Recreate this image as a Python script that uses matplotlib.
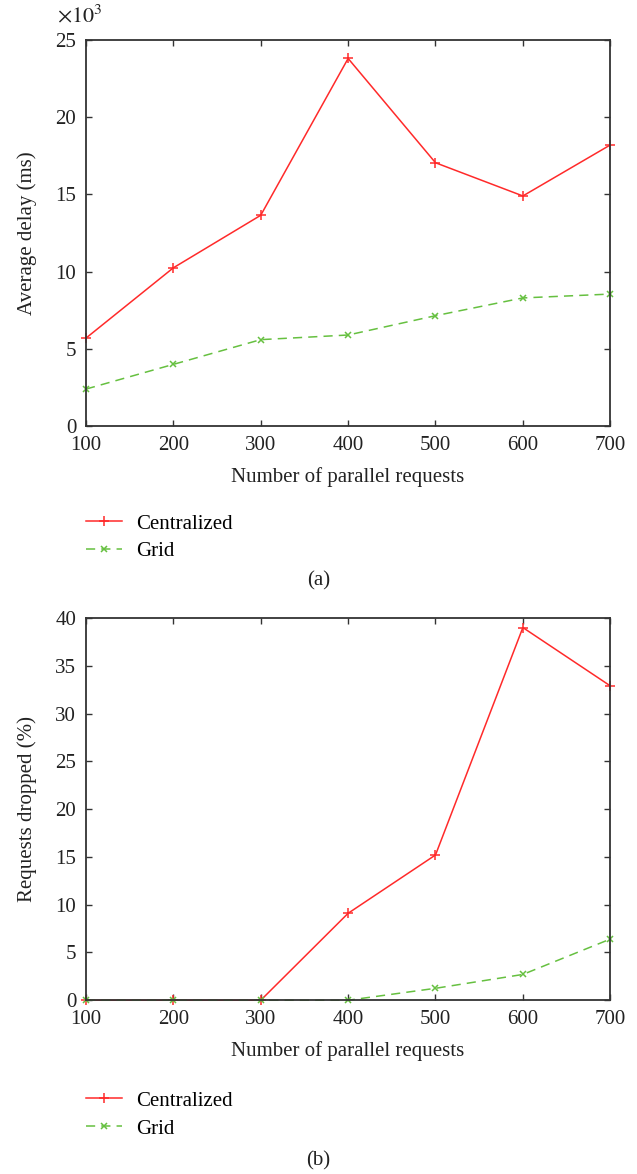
import matplotlib.pyplot as plt

plt.rcParams['font.family'] = ['Liberation Serif', 'DejaVu Serif']
plt.rcParams['mathtext.fontset'] = 'stix'

requests = [100, 200, 300, 400, 500, 600, 700]

# average delay (x10^3 ms)
delay_central = [5.7, 10.25, 13.65, 23.8, 17.05, 14.9, 18.2]
delay_grid = [2.4, 4.0, 5.6, 5.9, 7.15, 8.3, 8.55]

# requests dropped (%)
drop_central = [0, 0, 0, 9.1, 15.2, 39.0, 32.9]
drop_grid = [0, 0, 0, 0, 1.25, 2.7, 6.4]

red = '#ff2a2a'
green = '#66c040'
txt = '#222222'
fs = 15

fig = plt.figure(figsize=(6.37, 11.74), dpi=100)
ax1 = fig.add_axes([0.135, 0.637, 0.823, 0.329])
ax2 = fig.add_axes([0.135, 0.148, 0.823, 0.3256])


def style(ax, ymax, ystep, ylabel):
    ax.set_xlim(100, 700)
    ax.set_ylim(0, ymax)
    ax.set_xticks(requests)
    ax.set_yticks(range(0, ymax + 1, ystep))
    ax.tick_params(direction='in', top=True, right=True, labelsize=fs,
                   length=4, width=1, color='#333333', labelcolor=txt, pad=7)
    for s in ax.spines.values():
        s.set_linewidth(1.3)
        s.set_color('#333333')
    ax.set_xlabel('Number of parallel requests', fontsize=fs, color=txt, labelpad=9)
    ax.set_ylabel(ylabel, fontsize=fs, color=txt, labelpad=13)


ax1.plot(requests, delay_central, color=red, lw=1.1, marker='+', ms=7, mew=1.1, label='Centralized', clip_on=False)
ax1.plot(requests, delay_grid, color=green, lw=1.1, ls=(0, (6, 4)), marker='x', ms=5, mew=1.1, label='Grid', clip_on=False)
style(ax1, 25, 5, 'Average delay (ms)')
fig.text(57 / 637, 1 - 16 / 1174, r'$\times 10^3$', fontsize=16, color=txt, ha='left', va='center')

ax2.plot(requests, drop_central, color=red, lw=1.1, marker='+', ms=7, mew=1.1, label='Centralized', clip_on=False)
ax2.plot(requests, drop_grid, color=green, lw=1.1, ls=(0, (6, 4)), marker='x', ms=5, mew=1.1, label='Grid', clip_on=False)
style(ax2, 40, 5, 'Requests dropped (%)')

for ax, ytop in ((ax1, 514), (ax2, 1091)):
    ax.legend(loc='upper left', bbox_to_anchor=(86 / 637, 1 - ytop / 1174), bbox_transform=fig.transFigure,
              frameon=False, fontsize=fs, handlelength=1.75, handletextpad=0.65, labelspacing=0.4,
              borderpad=0, borderaxespad=0)

fig.text(0.5, 1 - 581 / 1174, '(a)', ha='center', va='center', fontsize=fs, color=txt)
fig.text(0.5, 1 - 1161 / 1174, '(b)', ha='center', va='center', fontsize=fs, color=txt)

fig.savefig('out.png', dpi=100)
